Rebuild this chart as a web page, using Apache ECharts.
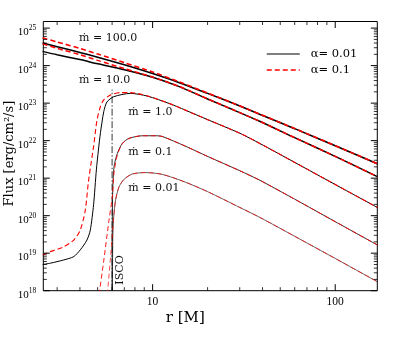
<!DOCTYPE html>
<html><head><meta charset="utf-8">
<script src="https://cdn.jsdelivr.net/npm/echarts@6/dist/echarts.min.js"></script>
<style>html,body{margin:0;padding:0;background:#fff}#c{width:399px;height:338px}</style>
</head><body><div id="c"></div>
<script>
// ---------------- data ----------------
const xRange = [2.52, 170];
const yRange = [1e18, 1.5e25];
const xMajorTicks = [10, 100];
const xMinorTicks = [3, 4, 5, 6, 7, 8, 9, 20, 30, 40, 50, 60, 70, 80, 90];
const yMajorTicks = [1e18, 1e19, 1e20, 1e21, 1e22, 1e23, 1e24, 1e25];
const yMinorMultipliers = [2, 3, 4, 5, 6, 7, 8, 9];
const xTickLabels = {10: '10', 100: '100'};

const mdotLabels = ['ṁ = 100.0', 'ṁ = 10.0', 'ṁ = 1.0', 'ṁ = 0.1', 'ṁ = 0.01'];
const legendNames = ['α= 0.01', 'α= 0.1'];

// mdot = 100
const r_m100 = [2.5, 3, 4, 5, 7, 10, 14, 20, 28, 38.8, 60, 100, 170];
const F_m100_a001 = [3.98e24, 3.20e24, 2.24e24, 1.67e24, 1.05e24, 6.14e23, 3.52e23, 1.82e23, 9.64e22, 5.01e22, 2.09e22, 7.33e21, 2.42e21];
const F_m100_a01  = [5.50e24, 4.27e24, 2.88e24, 2.04e24, 1.20e24, 6.76e23, 3.67e23, 1.86e23, 9.70e22, 5.04e22, 2.10e22, 7.36e21, 2.43e21];
// mdot = 10
const r_m10 = [2.5, 3, 4, 5, 7, 10, 14, 20, 28, 38.8, 60, 100, 170];
const F_m10_a001 = [2.40e24, 1.95e24, 1.45e24, 1.12e24, 7.76e23, 4.90e23, 2.75e23, 1.29e23, 6.46e22, 3.24e22, 1.20e22, 3.80e21, 1.10e21];
const F_m10_a01  = [3.80e24, 2.88e24, 1.95e24, 1.38e24, 8.32e23, 4.95e23, 2.78e23, 1.30e23, 6.46e22, 3.24e22, 1.20e22, 3.80e21, 1.10e21];
// mdot = 1
const r_m1_a001 = [2.5, 2.75, 3.26, 3.7, 4.02, 4.37, 4.56, 4.75, 4.92, 5.05, 5.18, 5.4, 5.62, 6.12, 7.55, 9.32, 12.5, 15, 20, 30, 38.8, 60, 100, 170];
const F_m1_a001 = [5.0e18, 5.4e18, 6.6e18, 8.1e18, 1.23e19, 2.24e19, 4.17e19, 1.95e20, 1.66e21, 5.62e21, 1.62e22, 5.89e22, 1.07e23, 1.48e23, 1.82e23, 1.55e23, 9.55e22, 6.61e22, 3.63e22, 1.58e22, 8.32e21, 2.63e21, 6.76e20, 1.66e20];
const r_m1_a01 = [2.5, 2.75, 3.26, 3.7, 4.02, 4.28, 4.45, 4.62, 4.75, 4.96, 5.18, 5.4, 5.9, 6.66, 7.53, 9.32, 12.5, 15, 20, 30, 38.8, 60, 100, 170];
const F_m1_a01 = [8.9e18, 1.10e19, 1.48e19, 2.24e19, 4.17e19, 1.41e20, 7.94e20, 2.82e21, 6.92e21, 3.55e22, 8.13e22, 1.23e23, 1.66e23, 1.91e23, 1.91e23, 1.58e23, 9.55e22, 6.61e22, 3.63e22, 1.58e22, 8.32e21, 2.63e21, 6.76e20, 1.66e20];
// mdot = 0.1
const r_m01_a001 = [6.0, 6.01, 6.05, 6.15, 6.41, 6.83, 7.43, 8.78, 10.4, 11.3, 15, 20, 30, 38.8, 60, 100, 170];
const F_m01_a001 = [1e17, 3.2e19, 5.0e20, 2.04e21, 4.57e21, 8.51e21, 1.15e22, 1.35e22, 1.35e22, 1.29e22, 7.24e21, 3.80e21, 1.58e21, 8.71e20, 2.75e20, 6.92e19, 1.66e19];
const r_m01_a01 = [5.09, 5.4, 5.77, 6.02, 6.15, 6.41, 6.83, 7.43, 8.78, 10.4, 11.3, 15, 20, 30, 38.8, 60, 100, 170];
const F_m01_a01 = [7.9e17, 6.3e18, 7.6e19, 3.24e20, 1.41e21, 4.17e21, 8.32e21, 1.15e22, 1.35e22, 1.35e22, 1.29e22, 7.24e21, 3.80e21, 1.58e21, 8.71e20, 2.75e20, 6.92e19, 1.66e19];
// mdot = 0.01
const r_m001_a001 = [6.0, 6.05, 6.12, 6.27, 6.55, 6.98, 7.74, 9.16, 11.3, 15, 20, 30, 38.8, 60, 100, 170];
const F_m001_a001 = [1e17, 2.0e19, 8.9e19, 2.63e20, 5.89e20, 9.33e20, 1.29e21, 1.41e21, 1.26e21, 7.94e20, 4.37e20, 1.66e20, 8.91e19, 2.82e19, 7.24e18, 1.74e18];
const r_m001_a01 = [5.65, 5.85, 6.0, 6.12, 6.27, 6.55, 6.98, 7.74, 9.16, 11.3, 15, 20, 30, 38.8, 60, 100, 170];
const F_m001_a01 = [7.9e17, 5.6e18, 2.5e19, 8.9e19, 2.63e20, 5.89e20, 9.33e20, 1.29e21, 1.41e21, 1.26e21, 7.94e20, 4.37e20, 1.66e20, 8.91e19, 2.82e19, 7.24e18, 1.74e18];
// ISCO
const iscoR = [6, 6];
const iscoF = [1e18, 2.3e23];

// ---------------- chart ----------------
const serif = 'Liberation Serif';
const serif2 = 'DejaVu Serif';
const pairs = (xs, ys) => xs.map((x, i) => [x, ys[i]]);

function curve(name, xs, ys, color, width, dashed) {
  return {
    type: 'line', name: name, data: pairs(xs, ys), symbol: 'none',
    smooth: 0.25, clip: true, silent: true,
    lineStyle: {color: color, width: width, type: dashed ? [5, 3] : 'solid'},
    itemStyle: {color: color}, z: dashed ? 3 : 2
  };
}

const yMinorTicks = [];
for (let e = 18; e <= 25; e++) {
  yMinorMultipliers.forEach(m => {
    const v = m * Math.pow(10, e);
    if (v < yRange[1]) yMinorTicks.push(v);
  });
}
const tickData = [];
xMajorTicks.forEach(v => tickData.push([v, yRange[0], 0, 1]));
xMinorTicks.forEach(v => tickData.push([v, yRange[0], 0, 0]));
yMajorTicks.forEach(v => tickData.push([xRange[0], v, 1, 1]));
yMinorTicks.forEach(v => tickData.push([xRange[0], v, 1, 0]));

function renderTick(params, api) {
  const cs = params.coordSys;
  const p = api.coord([api.value(0), api.value(1)]);
  const major = api.value(3) === 1;
  const L = major ? 6.5 : 3.5;
  const st = {stroke: '#000', lineWidth: major ? 1 : 0.8};
  const ch = [];
  if (api.value(2) === 0) {
    const x = p[0], yb = cs.y + cs.height, yt = cs.y;
    ch.push({type: 'line', shape: {x1: x, y1: yb, x2: x, y2: yb - L}, style: st});
    ch.push({type: 'line', shape: {x1: x, y1: yt, x2: x, y2: yt + L}, style: st});
  } else {
    const y = p[1], xl = cs.x, xr = cs.x + cs.width;
    ch.push({type: 'line', shape: {x1: xl, y1: y, x2: xl + L, y2: y}, style: st});
    ch.push({type: 'line', shape: {x1: xr, y1: y, x2: xr - L, y2: y}, style: st});
  }
  return {type: 'group', children: ch};
}

const BLK = '#000000', RED = '#ff0000';
const series = [
  curve(legendNames[0], r_m100, F_m100_a001, BLK, 1.6, false),
  curve(legendNames[0], r_m10, F_m10_a001, BLK, 1.5, false),
  curve(legendNames[0], r_m1_a001, F_m1_a001, BLK, 1.0, false),
  curve(legendNames[0], r_m01_a001, F_m01_a001, BLK, 0.8, false),
  curve(legendNames[0], r_m001_a001, F_m001_a001, BLK, 0.6, false),
  curve(legendNames[1], r_m100, F_m100_a01, RED, 1.6, true),
  curve(legendNames[1], r_m10, F_m10_a01, RED, 1.5, true),
  curve(legendNames[1], r_m1_a01, F_m1_a01, RED, 1.1, true),
  curve(legendNames[1], r_m01_a01, F_m01_a01, RED, 0.9, true),
  curve(legendNames[1], r_m001_a01, F_m001_a01, RED, 0.7, true),
  {
    type: 'line', name: 'ISCO', data: pairs(iscoR, iscoF), symbol: 'none', silent: true,
    lineStyle: {color: '#222', width: 0.9, type: [7, 2, 1.5, 2]}, z: 1
  },
  {
    type: 'custom', name: 'ticks', data: tickData, renderItem: renderTick,
    encode: {x: 0, y: 1}, silent: true, clip: false, z: 5
  }
];

function yFmt(v) {
  const l = Math.log10(v), e = Math.round(l);
  if (Math.abs(l - e) > 1e-6) return '';
  return '{b|10}{s|' + e + '}';
}
function xFmt(v) {
  const k = Math.round(v);
  if (Math.abs(v - k) > 1e-6) return '';
  return xTickLabels[k] || '';
}

const txt = (s, x, y, extra) => Object.assign({
  type: 'text', x: x, y: y, silent: true,
  style: {text: s, fill: '#111', font: '11px "' + serif2 + '"', textAlign: 'left', textVerticalAlign: 'middle'}
}, extra || {});

const option = {
  animation: false,
  backgroundColor: '#fff',
  grid: {left: 43.3, top: 21.5, width: 334, height: 269.2, show: true, borderColor: '#000', borderWidth: 1,
         backgroundColor: 'transparent', containLabel: false, outerBoundsMode: 'none'},
  xAxis: {
    type: 'log', logBase: 10, min: xRange[0], max: xRange[1],
    axisLine: {show: false}, axisTick: {show: false}, splitLine: {show: false}, minorTick: {show: false},
    axisLabel: {formatter: xFmt, fontFamily: serif, fontSize: 11.5, color: '#000', margin: 5, showMinLabel: true, showMaxLabel: true},
    name: 'r [M]', nameLocation: 'middle', nameGap: 20, nameMoveOverlap: false,
    nameTextStyle: {fontFamily: serif2, fontSize: 15, color: '#000', padding: [0, 50, 0, 0]}
  },
  yAxis: {
    type: 'log', logBase: 10, min: yRange[0], max: yRange[1],
    axisLine: {show: false}, axisTick: {show: false}, splitLine: {show: false}, minorTick: {show: false},
    axisLabel: {
      formatter: yFmt, color: '#000', margin: 7, padding: [8, 0, 0, 0],
      rich: {
        b: {fontFamily: serif, fontSize: 11, lineHeight: 16, color: '#000'},
        s: {fontFamily: serif, fontSize: 7.5, lineHeight: 8, verticalAlign: 'top', color: '#000'}
      }
    },
    name: 'Flux [erg/cm²/s]', nameLocation: 'middle', nameRotate: 90, nameGap: 27, nameMoveOverlap: false,
    nameTextStyle: {fontFamily: serif2, fontSize: 13, color: '#000', padding: [0, 0, 0, 5]}
  },
  legend: {
    orient: 'vertical', left: 261, top: 43, itemWidth: 33, itemHeight: 12, itemGap: 4,
    selectedMode: false,
    itemStyle: {opacity: 0},
    data: [
      {name: legendNames[0], lineStyle: {width: 1.1}, itemStyle: {opacity: 0}},
      {name: legendNames[1], lineStyle: {width: 1.5}, itemStyle: {opacity: 0}}
    ],
    textStyle: {fontFamily: serif2, fontSize: 11.5, color: '#000', padding: [0, 0, 0, 6]}
  },
  graphic: [
    txt(mdotLabels[0], 79, 38.5),
    txt(mdotLabels[1], 79, 80),
    txt(mdotLabels[2], 128.3, 111.7),
    txt(mdotLabels[3], 128.3, 151.7),
    txt(mdotLabels[4], 128.3, 188.3),
    txt('ISCO', 120, 270, {rotation: Math.PI / 2, style: {text: 'ISCO', fill: '#111', font: '11px "' + serif2 + '"', textAlign: 'center', textVerticalAlign: 'middle'}})
  ],
  series: series
};

const chart = echarts.init(document.getElementById('c'), null, {renderer: 'canvas'});
chart.setOption(option);
</script>
</body></html>
